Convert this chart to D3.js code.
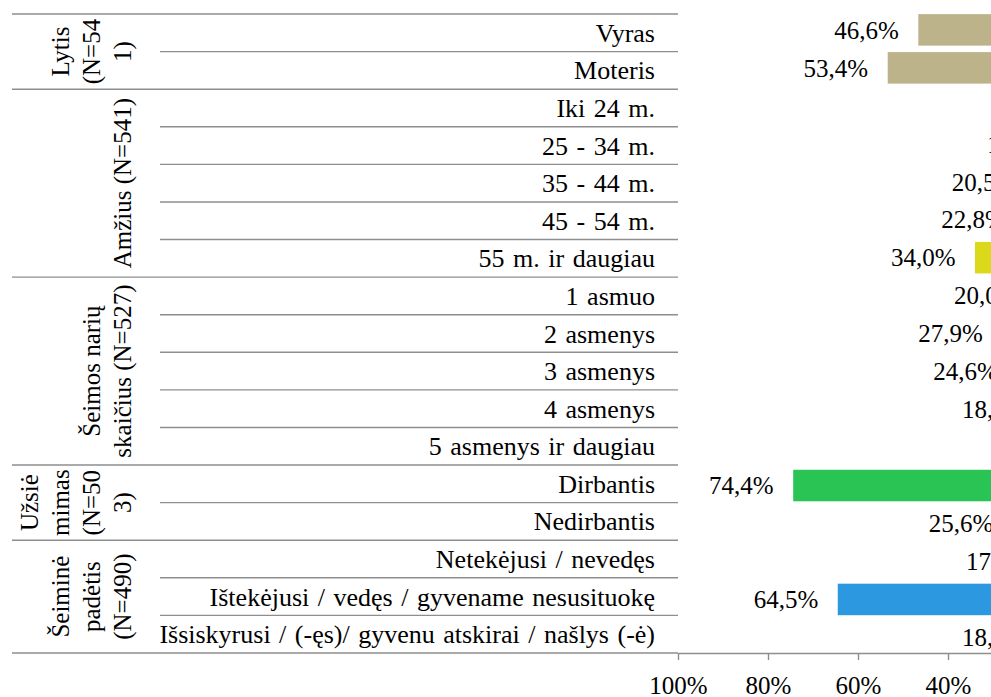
<!DOCTYPE html>
<html>
<head>
<meta charset="UTF-8">
<script src="https://cdn.jsdelivr.net/npm/d3@7"></script>
</head>
<body style="margin:0">
<script>
    // Data
    const groupLabels = [
        ["Lytis", "(N=54", "1)"],
        ["Amžius (N=541)"],
        ["Šeimos narių", "skaičius (N=527)"],
        ["Užsiė", "mimas", "(N=50", "3)"],
        ["Šeiminė", "padėtis", "(N=490)"]
    ];
    const groupColors = ["#bcb38b", "#dcd81a", "#e8873a", "#2ac455", "#2c98e0"];

    const categories = [
        "Vyras", "Moteris",
        "Iki 24 m.", "25 - 34 m.", "35 - 44 m.", "45 - 54 m.", "55 m. ir daugiau",
        "1 asmuo", "2 asmenys", "3 asmenys", "4 asmenys", "5 asmenys ir daugiau",
        "Dirbantis", "Nedirbantis",
        "Netekėjusi / nevedęs", "Ištekėjusi / vedęs / gyvename nesusituokę",
        "Išsiskyrusi / (-ęs)/ gyvenu atskirai / našlys (-ė)"
    ];
    const categoryGroup = [0, 0, 1, 1, 1, 1, 1, 2, 2, 2, 2, 2, 3, 3, 4, 4, 4];
    const values = [46.6, 53.4, 10.1, 12.6, 20.5, 22.8, 34.0, 20.0, 27.9, 24.6, 18.2, 9.3, 74.4, 25.6, 17.3, 64.5, 18.2];
    const xTicks = [0, 20, 40, 60, 80, 100];

    // Dimensions
    const width = 991, height = 697;
    const tableLeft = 12, labelColLeft = 160, plotLeft = 678;
    const lineColor = "#8e8e8e";

    const svg = d3.select("body").append("svg")
        .attr("width", width)
        .attr("height", height);

    const addText = (sel, size = 25) => sel
        .style("font-family", "'Liberation Serif'")
        .style("font-size", size + "px");

    // reversed percentage axis: 100% on the left, 0% off to the right
    const x = d3.scaleLinear().domain([0, 100]).range([1128, plotLeft]);

    const rows = d3.range(categories.length);
    const rowY = d3.scaleBand().domain(rows).range([14, 653]);
    const barY = d3.scaleBand().domain(rows).range([10.9, 656.4])
        .paddingInner(0.17).paddingOuter(0.085);

    // group boundaries (row index where each group starts + end)
    const boundaries = [0];
    categoryGroup.forEach((g, i) => { if (i > 0 && g !== categoryGroup[i - 1]) boundaries.push(i); });
    boundaries.push(categories.length);

    const lineY = i => i < categories.length ? rowY(i) : rowY.range()[1];

    // table lines
    svg.selectAll("line.grid")
        .data(d3.range(categories.length + 1))
        .join("line")
        .attr("class", "grid")
        .attr("stroke", lineColor)
        .attr("stroke-width", 1.4)
        .attr("x1", i => boundaries.includes(i) ? tableLeft : labelColLeft)
        .attr("x2", plotLeft)
        .attr("y1", lineY)
        .attr("y2", lineY);

    // category labels
    svg.selectAll("text.cat")
        .data(categories)
        .join("text")
        .attr("class", "cat")
        .call(addText, 26)
        .style("word-spacing", "2px")
        .attr("x", 655)
        .attr("y", (d, i) => rowY(i) + rowY.step() / 2 + 9)
        .attr("text-anchor", "end")
        .text(d => d);

    // group labels, rotated
    const lineH = 31;
    groupLabels.forEach((lines, gi) => {
        const y0 = lineY(boundaries[gi]), y1 = lineY(boundaries[gi + 1]);
        lines.forEach((txt, k) => {
            svg.append("text")
                .call(addText)
                .attr("text-anchor", "middle")
                .attr("transform", `translate(${131 - (lines.length - 1 - k) * lineH},${(y0 + y1) / 2}) rotate(-90)`)
                .text(txt);
        });
    });

    // bars
    svg.selectAll("rect")
        .data(values)
        .join("rect")
        .attr("x", d => x(d))
        .attr("y", (d, i) => barY(i))
        .attr("width", d => x(0) - x(d))
        .attr("height", barY.bandwidth())
        .attr("fill", (d, i) => groupColors[categoryGroup[i]]);

    // value labels
    const fmt = v => d3.format(".1f")(v).replace(".", ",") + "%";
    svg.selectAll("text.val")
        .data(values)
        .join("text")
        .attr("class", "val")
        .call(addText)
        .attr("x", d => x(d) - 19.5)
        .attr("y", (d, i) => barY(i) + barY.bandwidth() / 2 + 8.75)
        .attr("text-anchor", "end")
        .text(fmt);

    // x axis
    const axis = svg.append("g")
        .attr("transform", `translate(0,${rowY.range()[1]})`)
        .call(d3.axisBottom(x)
            .tickValues(xTicks)
            .tickFormat(d => d + "%")
            .tickSize(7)
            .tickSizeOuter(0)
            .tickPadding(16));
    axis.selectAll("path, line").attr("stroke", lineColor).attr("stroke-width", 1.4);
    axis.selectAll("text").call(addText).attr("fill", "#000");
</script>
</body>
</html>
